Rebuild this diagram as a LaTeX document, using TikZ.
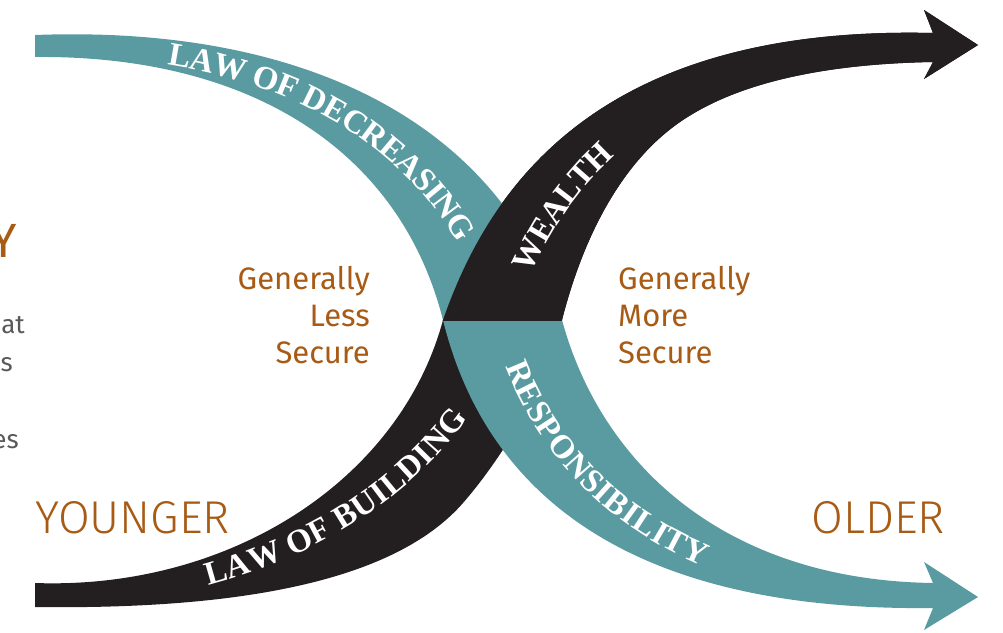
\documentclass[tikz,border=0pt]{standalone}
\usepackage{fontspec}
\setmainfont{Fira Sans}
\newfontfamily\agelight{Fira Sans Light}
\newfontfamily\bandserif{Liberation Serif}
\usetikzlibrary{decorations.text}

\definecolor{tealband}{HTML}{5A9BA1}
\definecolor{darkband}{HTML}{231F20}
\definecolor{agebrown}{HTML}{A75B15}
\definecolor{cutgray}{HTML}{58595B}

\newcommand{\bandfont}{\bandserif\bfseries\fontsize{33}{36}\selectfont}

% outlines of the two bands
\newcommand{\tealpath}{(35,35) .. controls (300,25) and (500,120) .. (562,320)
  .. controls (600,460) and (720,580) .. (933,583) -- (924,562) -- (978,597)
  -- (924,630) -- (933,608) .. controls (600,612) and (480,470) .. (443,320)
  .. controls (400,150) and (250,55) .. (35,57) -- cycle}
\newcommand{\darkpath}{(35,583) .. controls (230,590) and (400,480) .. (443,320)
  .. controls (490,185) and (600,25) .. (933,33) -- (924,10) -- (978,45)
  -- (924,79) -- (933,62) .. controls (820,64) and (735,84) .. (680,122)
  .. controls (625,160) and (585,230) .. (562,320)
  .. controls (550,380) and (503,457) .. (463,503)
  .. controls (400,575) and (260,610) .. (35,607) -- cycle}

\tikzset{
  sidelabel/.style={text=agebrown, inner sep=0pt, font=\fontsize{31}{37}\selectfont},
  agelabel/.style={text=agebrown, inner sep=0pt, font=\agelight\fontsize{46}{50}\selectfont},
  cutlabel/.style={text=cutgray, inner sep=0pt, font=\fontsize{26}{30}\selectfont},
  bandtext/.style={decorate, decoration={text along path, text color=white, raise=-11pt}}
}

\begin{document}
\begin{tikzpicture}[x=1pt,y=-1pt]
\useasboundingbox (0,0) rectangle (1003,632);

% Bands
\fill[darkband] \darkpath;
\fill[tealband] \tealpath;
\begin{scope}
  \clip (0,0) rectangle (1003,320);
  \fill[darkband] \darkpath;
\end{scope}

% Band texts
\path[bandtext, decoration={text={|\bandfont|LAW OF DECREASING}, text align={left indent=135pt}}]
  (35,46) .. controls (275,40) and (450,135) .. (502,320);
\path[bandtext, decoration={text={|\bandfont|WEALTH}, text align={left indent=55pt}}]
  (502,320) .. controls (545,183) and (650,44) .. (933,47);
\path[bandtext, decoration={text={|\bandfont|LAW OF BUILDING}, text align={left indent=172pt}}]
  (35,595) .. controls (265,600) and (460,480) .. (502,320);
\path[bandtext, decoration={text={|\bandfont|RESPONSIBILITY}, text align={left indent=44pt}}]
  (502,320) .. controls (540,465) and (660,596) .. (933,596);

% Side texts
\node[sidelabel, anchor=base east] (lessgen) at (370,289) {Generally};
\node[sidelabel, anchor=base east] (lessmid) at (370,326) {Less};
\node[sidelabel, anchor=base east] (lesssec) at (370,363) {Secure};
\node[sidelabel, anchor=base west] (moregen) at (618,289) {Generally};
\node[sidelabel, anchor=base west] (moremid) at (618,326) {More};
\node[sidelabel, anchor=base west] (moresec) at (618,363) {Secure};

\node[agelabel, anchor=base west] (younger) at (35,533) {YOUNGER};
\node[agelabel, anchor=base east] (older) at (945,533) {OLDER};

% Cut texts at the left edge
\node[text=agebrown, inner sep=0pt, font=\fontsize{48}{50}\selectfont, anchor=base east] (cuty) at (17,257) {Y};
\node[cutlabel, anchor=base east] (cutat) at (25,333) {at};
\node[cutlabel, anchor=base east] (cuts) at (13,371) {s};
\node[cutlabel, anchor=base east] (cutes) at (19,448) {es};
\end{tikzpicture}
\end{document}
